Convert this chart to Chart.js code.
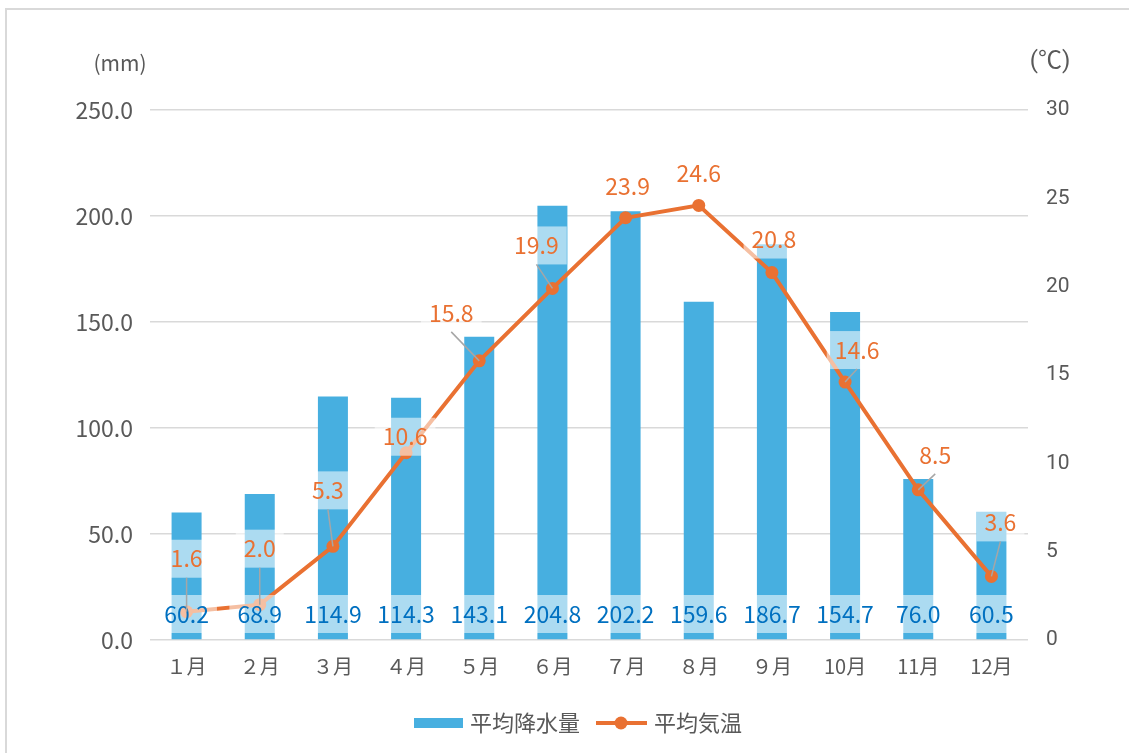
<!DOCTYPE html>
<html>
<head>
<meta charset="utf-8">
<script src="https://cdn.jsdelivr.net/npm/chart.js@4.4.1/dist/chart.umd.min.js"></script>
<style>
  html, body { margin: 0; padding: 0; background: #fff; overflow: hidden; }
  #frame { position: absolute; left: 5px; top: 8px; width: 1200px; height: 800px; border: 2px solid #d9d9d9; }
  #wrap { position: absolute; left: 0; top: 0; width: 1129px; height: 753px; }
</style>
</head>
<body>
<div id="frame"></div>
<div id="wrap"><canvas id="chart" width="1129" height="753"></canvas></div>
<script>
const months = ['１月', '２月', '３月', '４月', '５月', '６月', '７月', '８月', '９月', '10月', '11月', '12月'];
const rainfall = [60.2, 68.9, 114.9, 114.3, 143.1, 204.8, 202.2, 159.6, 186.7, 154.7, 76.0, 60.5];
const temperature = [1.6, 2.0, 5.3, 10.6, 15.8, 19.9, 23.9, 24.6, 20.8, 14.6, 8.5, 3.6];
const rainAxis = [0, 250, 50];   // min, max, step
const tempAxis = [0, 30, 5];
const rainName = '平均降水量';
const tempName = '平均気温';

// where each temperature label sits relative to its point: [dx, dy, leader line]
const tempLabelPlace = [
  [0, -53, true], [0, -56, true], [-5, -56, true], [-1, -16, false],
  [-28, -48, true], [-16, -43, true], [2, -32, false], [0, -32, false],
  [2, -33, false], [12, -32, true], [17, -35, true], [9, -54, true]
];

const BLUE = '#47AFE0';
const ORANGE = '#E97132';
const GREY = '#595959';
const JP = '"Noto Sans CJK JP", "Noto Sans", sans-serif';

Chart.defaults.font.family = JP;
Chart.defaults.color = GREY;

function labelBox(ctx, x, y, text) {
  const w = ctx.measureText(text).width + 16;
  ctx.fillStyle = 'rgba(255,255,255,0.55)';
  ctx.fillRect(x - w / 2, y - 19, w, 38);
}

const valueLabels = {
  id: 'valueLabels',
  afterDatasetsDraw(chart) {
    const ctx = chart.ctx;
    const base = chart.scales.y.getPixelForValue(0);
    ctx.save();
    ctx.font = '23px ' + JP;
    ctx.textAlign = 'center';
    ctx.textBaseline = 'middle';

    chart.getDatasetMeta(0).data.forEach((bar, i) => {
      const t = rainfall[i].toFixed(1);
      labelBox(ctx, bar.x, base - 26, t);
      ctx.fillStyle = '#0070C0';
      ctx.fillText(t, bar.x, base - 26);
    });

    const leaders = [];
    chart.getDatasetMeta(1).data.forEach((pt, i) => {
      const [dx, dy, lead] = tempLabelPlace[i];
      const t = temperature[i].toFixed(1);
      const cx = pt.x + dx, cy = pt.y + dy;
      labelBox(ctx, cx, cy, t);
      ctx.fillStyle = ORANGE;
      ctx.fillText(t, cx, cy);
      if (lead) leaders.push([cx, cy + 19, pt.x, pt.y]);
    });

    // leader lines from the label to its point
    ctx.strokeStyle = '#A6A6A6';
    ctx.lineWidth = 1.5;
    leaders.forEach(([x1, y1, x2, y2]) => {
      ctx.beginPath();
      ctx.moveTo(x1, y1);
      ctx.lineTo(x2, y2);
      ctx.stroke();
    });
    ctx.restore();
  },
  afterDraw(chart) {
    const ctx = chart.ctx;
    ctx.save();
    ctx.textBaseline = 'middle';

    // axis unit titles
    ctx.fillStyle = GREY;
    ctx.textAlign = 'center';
    ctx.font = '21px ' + JP;
    ctx.fillText('(mm)', 120, 63);
    ctx.font = '24px Roboto, ' + JP;
    ctx.fillText('(℃)', 1050, 62);

    // legend
    const ly = 723;
    ctx.fillStyle = BLUE;
    ctx.fillRect(414, ly - 5, 49, 10);
    ctx.font = '22px ' + JP;
    ctx.textAlign = 'left';
    ctx.fillStyle = GREY;
    ctx.fillText(rainName, 470, ly);
    ctx.strokeStyle = ORANGE;
    ctx.lineWidth = 4;
    ctx.beginPath();
    ctx.moveTo(596, ly);
    ctx.lineTo(647, ly);
    ctx.stroke();
    ctx.fillStyle = ORANGE;
    ctx.beginPath();
    ctx.arc(621, ly, 6.5, 0, Math.PI * 2);
    ctx.fill();
    ctx.fillStyle = GREY;
    ctx.fillText(tempName, 654, ly);
    ctx.restore();
  }
};

new Chart(document.getElementById('chart'), {
  data: {
    labels: months,
    datasets: [
      {
        type: 'bar',
        label: rainName,
        data: rainfall,
        backgroundColor: BLUE,
        yAxisID: 'y',
        barPercentage: 0.41,
        categoryPercentage: 1,
        order: 2
      },
      {
        type: 'line',
        label: tempName,
        data: temperature,
        borderColor: ORANGE,
        backgroundColor: ORANGE,
        borderWidth: 4,
        pointRadius: 6.5,
        pointBorderWidth: 0,
        tension: 0,
        yAxisID: 'y1',
        order: 1
      }
    ]
  },
  options: {
    responsive: false,
    animation: false,
    layout: { padding: { top: 110, left: 0, right: 0, bottom: 0 } },
    plugins: {
      legend: { display: false },
      tooltip: { enabled: false }
    },
    scales: {
      x: {
        grid: { display: false },
        border: { display: false },
        ticks: { padding: 6, font: { size: 20 }, color: GREY, maxRotation: 0 },
        afterFit(scale) { scale.height = 113; }
      },
      y: {
        position: 'left',
        min: rainAxis[0],
        max: rainAxis[1],
        grid: { color: '#D9D9D9', lineWidth: 1.5, drawTicks: false },
        border: { display: false },
        ticks: {
          stepSize: rainAxis[2],
          padding: 17,
          font: { size: 23 },
          color: GREY,
          callback: v => v.toFixed(1)
        },
        afterFit(scale) { scale.width = 150; }
      },
      y1: {
        position: 'right',
        min: tempAxis[0],
        max: tempAxis[1],
        grid: { display: false, drawTicks: false },
        border: { display: false },
        ticks: {
          stepSize: tempAxis[2],
          padding: 18,
          font: { size: 21, family: 'Roboto, ' + JP },
          color: GREY
        },
        afterFit(scale) { scale.width = 101; }
      }
    }
  },
  plugins: [valueLabels]
});
</script>
</body>
</html>
